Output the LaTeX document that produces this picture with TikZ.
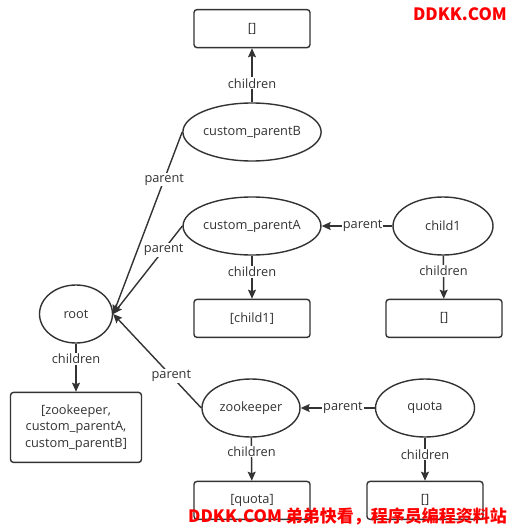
\documentclass[tikz,border=0pt]{standalone}
\usepackage{fontspec}
\setmainfont{Open Sans}
\newfontfamily\cjk{Noto Sans CJK SC}
\usetikzlibrary{arrows.meta,positioning,shapes.geometric}
\definecolor{cInk}{HTML}{333333}
\definecolor{cMark}{HTML}{FF0000}
\tikzset{
  >={Stealth[length=9pt,width=8pt,inset=1.5pt]},
  nbox/.style  ={rectangle,rounded corners=3pt,draw=cInk,line width=1.4pt,
                 minimum width=116pt,minimum height=38pt,inner sep=0pt,
                 align=center,text=cInk,font=\fontsize{12.8}{16.5}\selectfont},
  znode/.style ={ellipse,draw=cInk,line width=1.4pt,minimum height=58pt,
                 inner sep=0pt,text=cInk,font=\fontsize{12.8}{15}\selectfont},
  ar/.style    ={->,line width=1.4pt,cInk},
  lbl/.style   ={font=\fontsize{12.8}{15}\selectfont,fill=white,inner sep=1pt,text=cInk},
  wmark/.style ={font=\cjk\bfseries\fontsize{17}{20}\selectfont,text=cMark,inner sep=0pt},
}
\begin{document}
\begin{tikzpicture}[x=1pt,y=-1pt,node distance=43pt]
\useasboundingbox[fill=white] (0,0) rectangle (510,527);
% znodes
\node[znode,minimum width=73pt]  (root)  at (76,314)  {root};
\node[znode,minimum width=134pt] (cpB)   at (252,132) {custom\_parentB};
\node[znode,minimum width=134pt] (cpA)   at (252,226) {custom\_parentA};
\node[znode,minimum width=100pt] (child1) at (443,226) {child1};
\node[znode,minimum width=98pt]  (zk)    at (251,408) {zookeeper};
\node[znode,minimum width=99pt]  (quota) at (425,408) {quota};
% children lists
\node[nbox,above=54pt of cpB] (cpBkids) {[]};
\node[nbox,below=of cpA] (cpAkids) {[child1]};
\node[nbox,below=of child1,xshift=1pt] (child1kids) {[]};
\node[nbox,below=48pt of root,minimum width=131pt,minimum height=70pt] (rootkids)
  {[zookeeper,\\custom\_parentA,\\custom\_parentB]};
\node[nbox,below=of zk,xshift=1pt] (zkkids) {[quota]};
\node[nbox,below=of quota] (quotakids) {[]};
% children edges
\draw[ar] (cpB) -- node[lbl,pos=0.35]{children} (cpBkids);
\draw[ar] (cpA) -- node[lbl,pos=0.37]{children} (cpAkids);
\draw[ar] (child1) -- node[lbl,pos=0.35]{children} (child1kids);
\draw[ar] (root) -- node[lbl,pos=0.31]{children} (rootkids);
\draw[ar] (zk) -- node[lbl,pos=0.32]{children} (zkkids);
\draw[ar] (quota) -- node[lbl,pos=0.39]{children} (quotakids);
% parent edges
\draw[ar] (cpB.west) -- node[lbl,pos=0.26]{parent} (root.east);
\draw[ar] (cpA.west) -- node[lbl,pos=0.27]{parent} (root.east);
\draw[ar] (zk.west) -- node[lbl,pos=0.34]{parent} (root.east);
\draw[ar] (child1) -- node[lbl,pos=0.42]{parent} (cpA);
\draw[ar] (quota) -- node[lbl,pos=0.43]{parent} (zk);
% watermarks
\node[wmark,anchor=east] (wmtop) at (507,14) {DDKK.COM};
\node[wmark,anchor=east] (wmbot) at (507,516) {DDKK.COM 弟弟快看，程序员编程资料站};
\end{tikzpicture}
\end{document}
